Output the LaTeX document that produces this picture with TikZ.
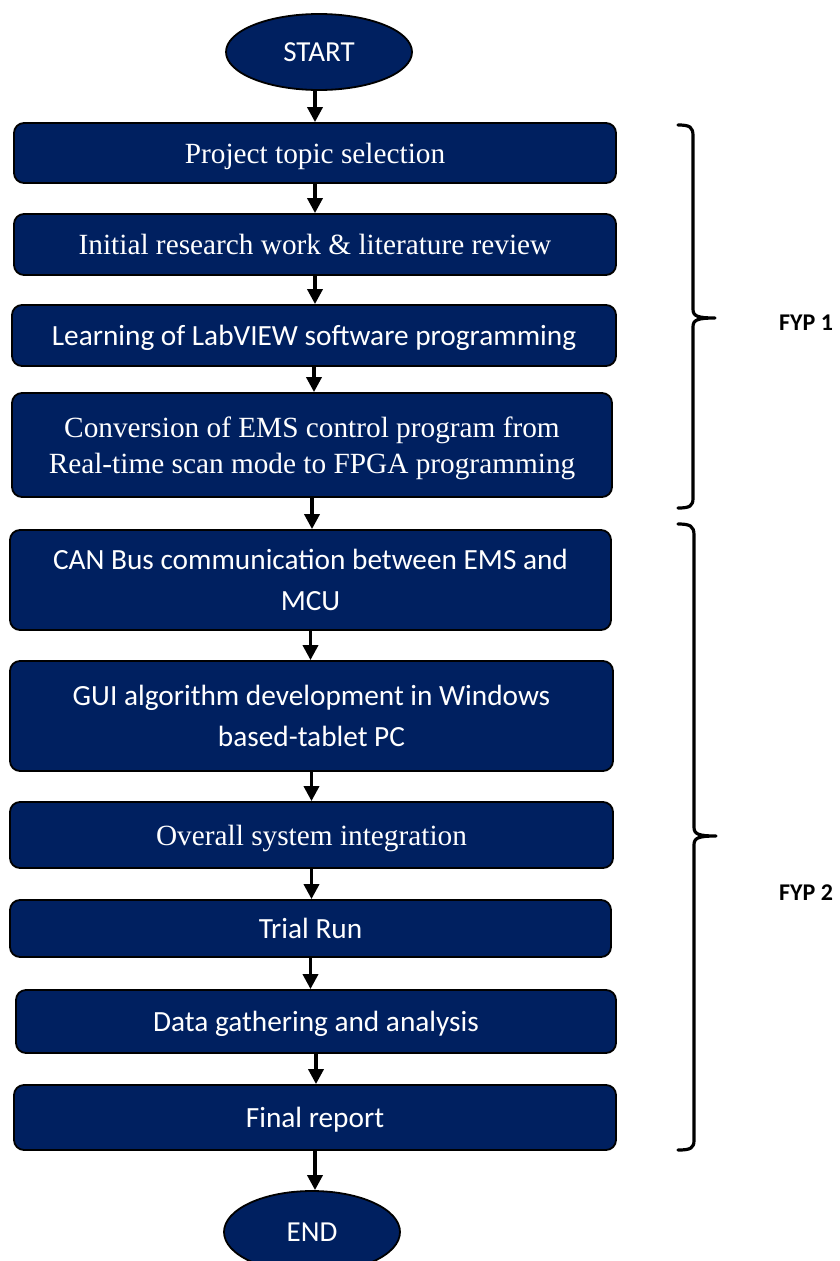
\documentclass[tikz,border=0pt]{standalone}
\usepackage{fontspec}
\setmainfont{Liberation Serif}
\newfontfamily\calibri{Carlito}
\usetikzlibrary{arrows.meta,shapes.geometric}
\definecolor{navy}{HTML}{002060}
\begin{document}
\begin{tikzpicture}[x=1pt,y=-1pt,
  box/.style={draw=black, line width=1.8pt, fill=navy, rounded corners=10pt,
    text=white, align=center, inner sep=0pt, text depth=0pt, minimum width=602pt},
  term/.style={ellipse, draw=black, line width=1.8pt, fill=navy, text=white,
    inner sep=0pt, text depth=0pt, font=\calibri\fontsize{29}{35}\selectfont},
  serif/.style={font=\fontsize{29.3}{36}\selectfont},
  sans/.style={font=\calibri\fontsize{29.3}{41}\selectfont},
  arr/.style={line width=3.5pt, -{Triangle[width=15pt,length=15pt]}},
  brace/.style={line width=3.2pt, line cap=round, line join=round},
  phase/.style={font=\calibri\bfseries\fontsize{24}{28}\selectfont}]
\useasboundingbox (0,0) rectangle (840,1261);
\clip (0,0) rectangle (840,1261);

% terminals
\node[term, minimum width=186pt, minimum height=76pt] (start) at (319,52) {START};
\node[term, minimum width=176pt, minimum height=82pt] (end) at (312,1232) {END};

% process steps
\node[box, serif, minimum height=60pt]  (b1)  at (315,153)    {Project topic selection};
\node[box, serif, minimum height=61pt]  (b2)  at (315,244.5)  {Initial research work \& literature review};
\node[box, sans,  minimum height=61pt, minimum width=604pt]  (b3)  at (314,335.5)  {Learning of LabVIEW software programming};
\node[box, serif, minimum height=104pt, minimum width=600pt] (b4)  at (312,445) {Conversion of EMS control program from\\Real-time scan mode to FPGA programming};
\node[box, sans,  minimum height=100pt, minimum width=601pt] (b5)  at (310.5,580) {CAN Bus communication between EMS and\\MCU};
\node[box, sans,  minimum height=110pt, minimum width=603pt] (b6)  at (311.5,716) {GUI algorithm development in Windows\\based-tablet PC};
\node[box, serif, minimum height=66pt,  minimum width=603pt] (b7)  at (311.5,835) {Overall system integration};
\node[box, sans,  minimum height=57pt,  minimum width=601pt] (b8)  at (310.5,928.5) {Trial Run};
\node[box, sans,  minimum height=63pt,  minimum width=600pt] (b9)  at (316,1021.5) {Data gathering and analysis};
\node[box, sans,  minimum height=65pt]  (b10) at (315,1117.5) {Final report};

% flow arrows
\draw[arr] (b1.north |- start.south) -- (b1.north);
\draw[arr] (b1.south) -- (b1.south |- b2.north);
\draw[arr] (b2.south) -- (b2.south |- b3.north);
\draw[arr] (b3.south) -- (b3.south |- b4.north);
\draw[arr] (b4.south) -- (b4.south |- b5.north);
\draw[arr] (b5.south) -- (b5.south |- b6.north);
\draw[arr] (b6.south) -- (b6.south |- b7.north);
\draw[arr] (b7.south) -- (b7.south |- b8.north);
\draw[arr] (b8.south) -- (b8.south |- b9.north);
\draw[arr] (b9.south) -- (b9.south |- b10.north);
\draw[arr] (b10.south) -- (b10.south |- end.north);

% phase braces
\draw[brace] (678,125) .. controls (690,125) and (693,127) .. (693,136)
  -- (693,309) .. controls (693,316) and (697,318) .. (715,318)
  (715,318) .. controls (697,318) and (693,320) .. (693,327)
  -- (693,498) .. controls (693,506) and (690,508) .. (678,508);
\draw[brace] (678,524) .. controls (690,524) and (694,526) .. (694,535)
  -- (694,827) .. controls (694,834) and (698,836) .. (716,836)
  (716,836) .. controls (698,836) and (694,838) .. (694,845)
  -- (694,1140) .. controls (694,1148) and (691,1150) .. (678,1150);

\node[phase] (fyp1) at (806,323) {FYP 1};
\node[phase] (fyp2) at (806,893) {FYP 2};
\end{tikzpicture}
\end{document}
